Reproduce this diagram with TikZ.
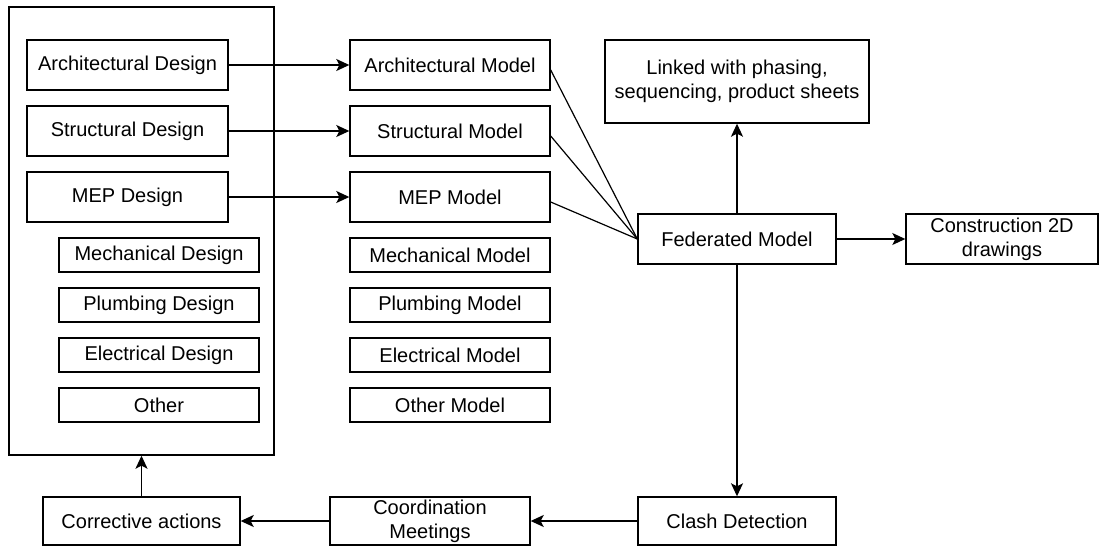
\documentclass[tikz,border=0pt]{standalone}
\usepackage{fontspec}
\setmainfont{Liberation Sans}
\usetikzlibrary{arrows.meta}
\tikzset{
  box/.style={draw, line width=1.4pt, rectangle, inner sep=0pt, align=center,
    font=\fontsize{20}{24}\selectfont},
  arr/.style={line width=1.4pt, -{Stealth[length=13pt,width=12pt,inset=3pt]}},
  ln/.style={line width=1.2pt}
}
\begin{document}
\begin{tikzpicture}[x=1pt,y=-1pt]
\useasboundingbox (0,0) rectangle (1106,546);
% outer design container
\node[box, minimum width=265pt, minimum height=448pt] (design) at (141.5,231) {};
% design boxes
\node[box, minimum width=201pt, minimum height=50pt] (ad) at (127.5,65) {Architectural Design};
\node[box, minimum width=201pt, minimum height=50pt] (sd) at (127.5,131) {Structural Design};
\node[box, minimum width=201pt, minimum height=50pt] (md) at (127.5,197) {MEP Design};
\node[box, minimum width=200pt, minimum height=34pt] (mech) at (159,255) {Mechanical Design};
\node[box, minimum width=200pt, minimum height=34pt] (plum) at (159,305) {Plumbing Design};
\node[box, minimum width=200pt, minimum height=34pt] (elec) at (159,355) {Electrical Design};
\node[box, minimum width=200pt, minimum height=34pt] (oth) at (159,405) {Other};
% model boxes
\node[box, minimum width=200pt, minimum height=50pt] (am) at (450,65) {Architectural Model};
\node[box, minimum width=200pt, minimum height=50pt] (sm) at (450,131) {Structural Model};
\node[box, minimum width=200pt, minimum height=50pt] (mm) at (450,197) {MEP Model};
\node[box, minimum width=200pt, minimum height=34pt] (mechm) at (450,255) {Mechanical Model};
\node[box, minimum width=200pt, minimum height=34pt] (plumm) at (450,305) {Plumbing Model};
\node[box, minimum width=200pt, minimum height=34pt] (elecm) at (450,355) {Electrical Model};
\node[box, minimum width=200pt, minimum height=34pt] (othm) at (450,405) {Other Model};
% right side
\node[box, minimum width=264pt, minimum height=83pt] (link) at (737,81.5) {Linked with phasing,\\sequencing, product sheets};
\node[box, minimum width=198pt, minimum height=50pt] (fed) at (737,239) {Federated Model};
\node[box, minimum width=192pt, minimum height=50pt] (cons) at (1002,239) {Construction 2D\\drawings};
\node[box, minimum width=198pt, minimum height=48pt] (clash) at (737,521) {Clash Detection};
\node[box, minimum width=200pt, minimum height=48pt] (coord) at (430,521) {Coordination\\Meetings};
\node[box, minimum width=197pt, minimum height=48pt] (corr) at (141.5,521) {Corrective actions};
% connectors
\draw[arr] (ad.east) -- (am.west);
\draw[arr] (sd.east) -- (sm.west);
\draw[arr] (md.east) -- (mm.west);
\draw[ln] ([yshift=-5pt]am.east) -- (fed.west);
\draw[ln] ([yshift=-5pt]sm.east) -- (fed.west);
\draw[ln] ([yshift=-5pt]mm.east) -- (fed.west);
\draw[arr] (fed.north) -- (link.south);
\draw[arr] (fed.east) -- (cons.west);
\draw[arr] (fed.south) -- (clash.north);
\draw[arr] (clash.west) -- (coord.east);
\draw[arr] (coord.west) -- (corr.east);
\draw[arr] (corr.north) -- (corr.north |- design.south);
\end{tikzpicture}
\end{document}
